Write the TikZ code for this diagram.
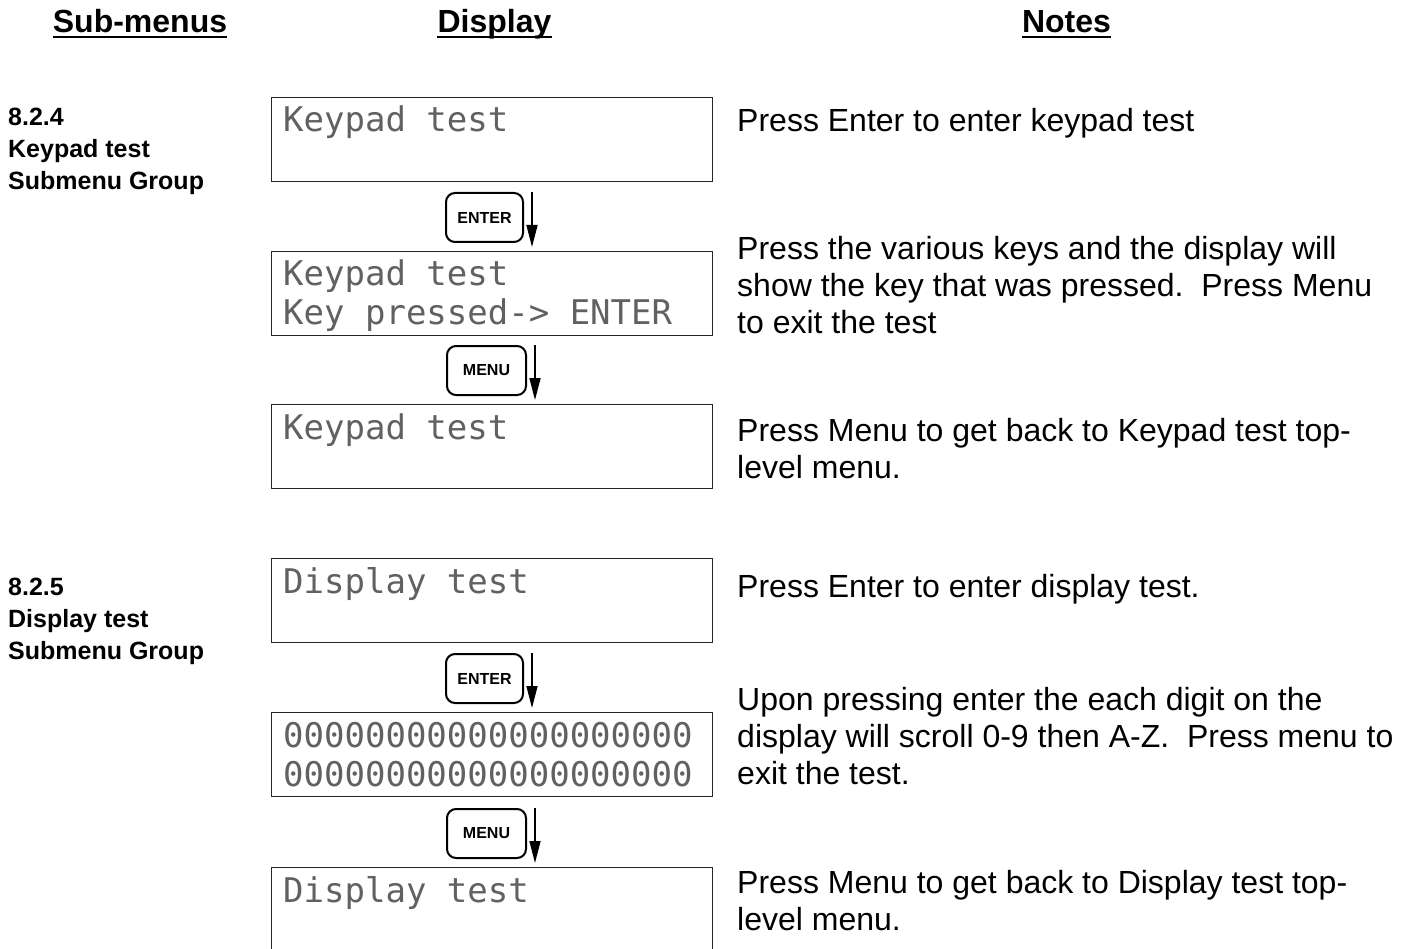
\documentclass[tikz,border=0pt]{standalone}
\usepackage{fontspec}
\setmainfont{Liberation Sans}
\newfontfamily\lcdfont{DejaVu Sans Mono}
\usetikzlibrary{arrows.meta}
\begin{document}
\begin{tikzpicture}[x=1pt,y=-1pt]
\tikzset{
 lcdbox/.style={draw=black!85, line width=1.2pt, minimum width=441pt, minimum height=84pt, inner sep=0pt, anchor=north west},
 lcdtext/.style={anchor=base west, inner sep=0pt, font=\lcdfont\fontsize{34}{40}\selectfont, text=black!62},
 keybox/.style={draw, line width=2pt, rounded corners=9pt, minimum width=77pt, minimum height=49pt, inner sep=0pt, anchor=north west, font=\bfseries\fontsize{16}{18}\selectfont},
 flow/.style={line width=1.6pt, -{Triangle[length=22pt,width=11pt]}},
 head/.style={anchor=base, inner sep=0pt, font=\bfseries\fontsize{32}{37}\selectfont},
 uline/.style={line width=2.5pt},
 grp/.style={anchor=north west, inner sep=0pt, align=left, font=\bfseries\fontsize{25}{32}\selectfont},
 note/.style={anchor=north west, inner sep=0pt, align=left, font=\fontsize{32}{37}\selectfont},
}
\clip (0,0) rectangle (1407,949);
\fill[white] (0,0) rectangle (1407,949);

% headers
\node[head] (h1) at (140,33) {Sub-menus};
\node[head] (h2) at (494.5,33) {Display};
\node[head] (h3) at (1066.5,33) {Notes};
\foreach \h in {h1,h2,h3}
  \draw[uline] ([yshift=-4pt]\h.base west) -- ([yshift=-4pt]\h.base east);

% group labels
\node[grp] (g1) at (8,108) {8.2.4\\Keypad test\\Submenu Group};
\node[grp] (g2) at (8,578) {8.2.5\\Display test\\Submenu Group};

% keypad section
\node[lcdbox] (b1) at (271,97) {};
\node[lcdtext] (b1a) at ([xshift=12pt,yshift=-35pt]b1.north west) {Keypad test};
\node[keybox] (k1) at (445,192) {ENTER};
\node[lcdbox] (b2) at (271,251) {};
\node[lcdtext] (b2a) at ([xshift=12pt,yshift=-35pt]b2.north west) {Keypad test};
\node[lcdtext] (b2b) at ([xshift=12pt,yshift=-74pt]b2.north west) {Key pressed-> ENTER};
\node[keybox, minimum width=79pt] (k2) at (446,345) {MENU};
\node[lcdbox] (b3) at (271,404) {};
\node[lcdtext] (b3a) at ([xshift=12pt,yshift=-35pt]b3.north west) {Keypad test};

% display section
\node[lcdbox] (b4) at (271,558) {};
\node[lcdtext] (b4a) at ([xshift=12pt,yshift=-35pt]b4.north west) {Display test};
\node[keybox] (k3) at (445,653) {ENTER};
\node[lcdbox] (b5) at (271,712) {};
\node[lcdtext] (b5a) at ([xshift=12pt,yshift=-35pt]b5.north west) {00000000000000000000};
\node[lcdtext] (b5b) at ([xshift=12pt,yshift=-74pt]b5.north west) {00000000000000000000};
\node[keybox, minimum width=79pt] (k4) at (446,808) {MENU};
\node[lcdbox, minimum height=120pt] (b6) at (271,867) {};
\node[lcdtext] (b6a) at ([xshift=12pt,yshift=-35pt]b6.north west) {Display test};

% arrows beside keys
\foreach \k in {k1,k2,k3,k4}
  \draw[flow] ([xshift=8pt]\k.north east) -- ([xshift=8pt,yshift=-4pt]\k.south east);

% notes
\node[note] (n1) at (737,108) {Press Enter to enter keypad test};
\node[note] (n2) at (737,236) {Press the various keys and the display will\\show the key that was pressed.\ \ Press Menu\\to exit the test};
\node[note] (n3) at (737,418) {Press Menu to get back to Keypad test top-\\level menu.};
\node[note] (n4) at (737,574) {Press Enter to enter display test.};
\node[note] (n5) at (737,687) {Upon pressing enter the each digit on the\\display will scroll 0-9 then A-Z.\ \ Press menu to\\exit the test.};
\node[note] (n6) at (737,870) {Press Menu to get back to Display test top-\\level menu.};
\end{tikzpicture}
\end{document}
